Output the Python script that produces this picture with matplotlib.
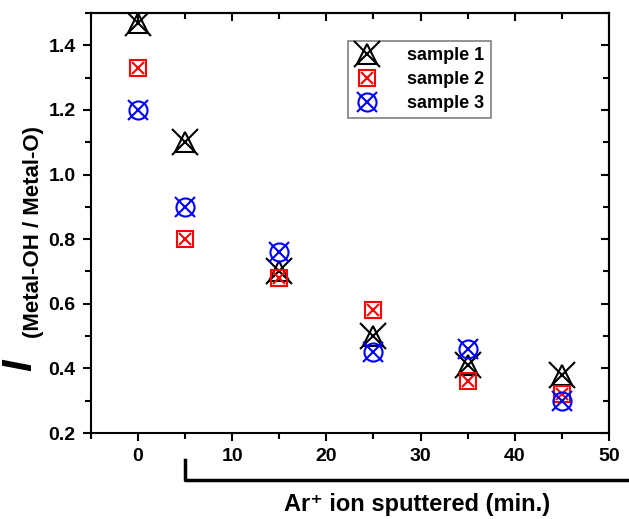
import matplotlib
matplotlib.use("Agg")
import matplotlib.pyplot as plt
from matplotlib.ticker import MultipleLocator

# sputtering time (min.)
time_min = [0, 5, 15, 25, 35, 45]

# I(Metal-OH / Metal-O) ratios
sample1 = [1.47, 1.10, 0.70, 0.50, 0.41, 0.38]
sample2 = [1.33, 0.80, 0.68, 0.58, 0.36, 0.32]
sample3 = [1.20, 0.90, 0.76, 0.45, 0.46, 0.30]

labels = ["sample 1", "sample 2", "sample 3"]

plt.rcParams['font.family'] = ['Liberation Sans', 'DejaVu Sans']
plt.rcParams['font.weight'] = 'bold'

fig = plt.figure(figsize=(6.29, 5.19), dpi=100)
ax = fig.add_axes([0.1447, 0.1657, 0.8233, 0.8093])

lw = 1.5
# sample 1: open triangle with a cross over it
t1, = ax.plot(time_min, sample1, ls='none', marker='^', ms=15, mfc='none',
              mec='black', mew=lw, zorder=3)
x1, = ax.plot(time_min, sample1, ls='none', marker='x', ms=19, mec='black',
              mew=lw, zorder=3)
# sample 2: open square with a cross inside
t2, = ax.plot(time_min, sample2, ls='none', marker='s', ms=12, mfc='none',
              mec='red', mew=lw, zorder=4)
x2, = ax.plot(time_min, sample2, ls='none', marker='x', ms=8.5, mec='red',
              mew=lw, zorder=4)
# sample 3: open circle with a cross
t3, = ax.plot(time_min, sample3, ls='none', marker='o', ms=13, mfc='none',
              mec='blue', mew=lw, zorder=5)
x3, = ax.plot(time_min, sample3, ls='none', marker='x', ms=14, mec='blue',
              mew=lw, zorder=5)

ax.set_xlim(-5, 50)
ax.set_ylim(0.2, 1.5)
ax.xaxis.set_major_locator(MultipleLocator(10))
ax.xaxis.set_minor_locator(MultipleLocator(5))
ax.yaxis.set_minor_locator(MultipleLocator(0.1))
ax.set_yticks([0.2, 0.4, 0.6, 0.8, 1.0, 1.2, 1.4])

for sp in ax.spines.values():
    sp.set_linewidth(1.5)
ax.tick_params(which='both', direction='out', width=1.5, labelsize=14,
               top=False, right=False)
ax.tick_params(which='major', length=6, pad=5)
ax.tick_params(which='minor', length=4)
for lab in ax.get_xticklabels() + ax.get_yticklabels():
    lab.set_fontweight('bold')

# inward ticks on top and right
sec_x = ax.secondary_xaxis('top')
sec_x.xaxis.set_major_locator(MultipleLocator(10))
sec_x.xaxis.set_minor_locator(MultipleLocator(5))
sec_x.tick_params(which='both', direction='in', width=1.5, labeltop=False)
sec_x.tick_params(which='major', length=6)
sec_x.tick_params(which='minor', length=4)
sec_x.spines['top'].set_linewidth(1.5)
sec_y = ax.secondary_yaxis('right')
sec_y.yaxis.set_major_locator(MultipleLocator(0.2))
sec_y.yaxis.set_minor_locator(MultipleLocator(0.1))
sec_y.tick_params(which='both', direction='in', width=1.5, labelright=False)
sec_y.tick_params(which='major', length=6)
sec_y.tick_params(which='minor', length=4)
sec_y.spines['right'].set_linewidth(1.5)

# tuples of markers are drawn on top of each other in the legend
leg = ax.legend([(t1, x1), (t2, x2), (t3, x3)], labels,
                loc='upper left', bbox_to_anchor=(0.497, 0.933),
                prop={'weight': 'bold', 'size': 13}, fancybox=False,
                edgecolor='gray', framealpha=1, handlelength=1.4,
                labelspacing=0.38, handletextpad=1.5, borderpad=0.35,
                borderaxespad=0)
leg.get_frame().set_linewidth(1.2)

# bracket under the x axis marking the sputtered range
trans = ax.get_xaxis_transform()
ax.plot([5, 5, 55], [-0.064, -0.112, -0.112], color='black', lw=2.5,
        transform=trans, clip_on=False, solid_joinstyle='round')
fig.text(0.663, 0.028, "Ar\u207a ion sputtered (min.)", ha='center',
         va='center', fontsize=17, fontweight='bold')

# y label: large italic I with a subscript
fig.text(0.033, 0.296, "I", rotation=90, ha='center', va='center',
         fontsize=30, fontweight='bold', fontstyle='italic')
fig.text(0.053, 0.553, "(Metal-OH / Metal-O)", rotation=90, ha='center',
         va='center', fontsize=16, fontweight='bold')

plt.savefig("out.png", dpi=100)
